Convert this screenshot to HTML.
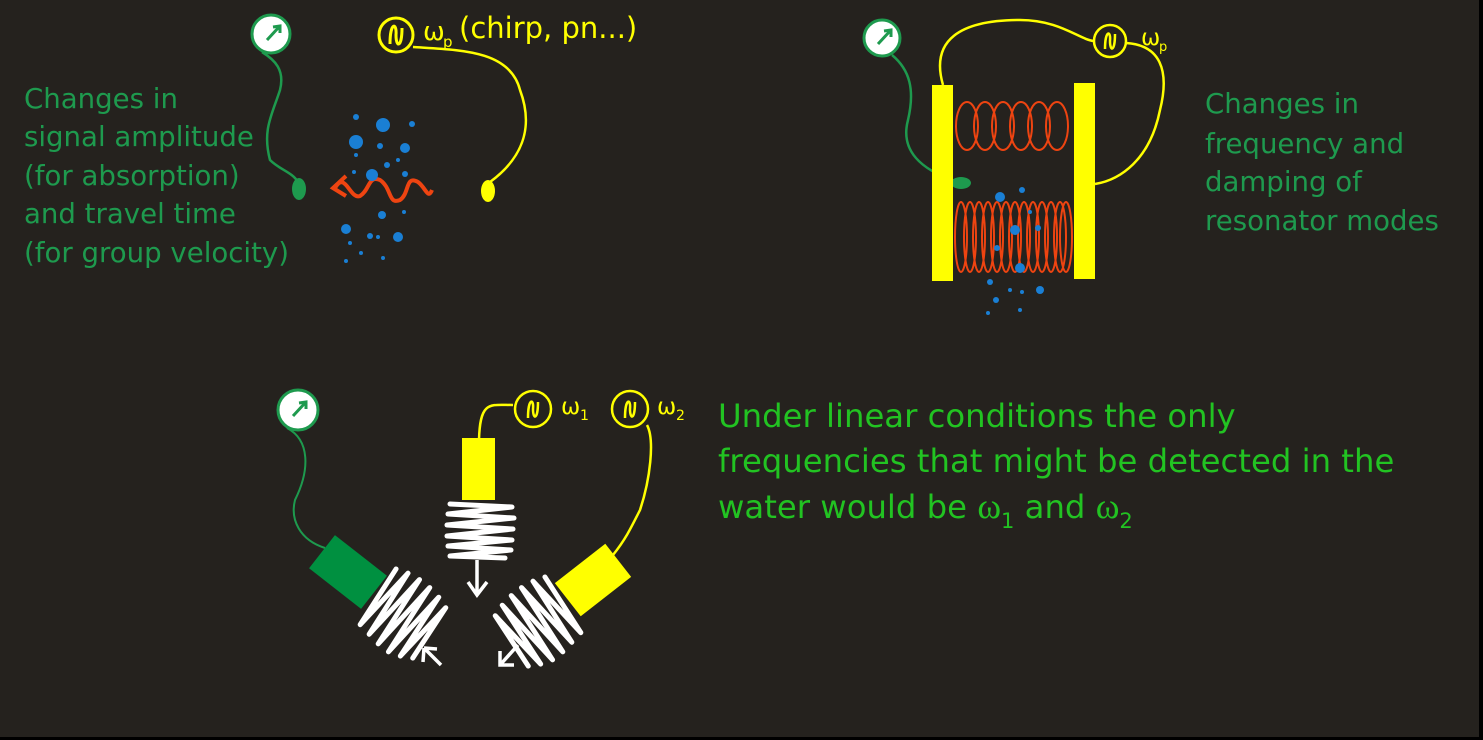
<!DOCTYPE html>
<html><head><meta charset="utf-8"><style>
html,body{margin:0;padding:0;background:#000;}
svg{display:block;}
text{font-family:"DejaVu Sans","Liberation Sans",sans-serif;}
</style></head><body>
<svg width="1483" height="740" viewBox="0 0 1483 740" xmlns="http://www.w3.org/2000/svg">
<rect x="0" y="0" width="1479" height="737" fill="#25221e"/>

<g font-size="27.6" fill="#1e9a4e">
<text x="24" y="108">Changes in</text>
<text x="24" y="146">signal amplitude</text>
<text x="24" y="185">(for absorption)</text>
<text x="24" y="223">and travel time</text>
<text x="24" y="262">(for group velocity)</text>
</g>
<circle cx="271" cy="34" r="19" fill="#fff" stroke="#1e9a4e" stroke-width="3"/>
<path d="M267 40 L279 27 M273 27 L280 26 L280 33" stroke="#1e9a4e" stroke-width="3" fill="none"/>
<path d="M262 52 C275 60 285 70 280 90 C272 115 262 130 270 160 C280 170 292 172 298 182" stroke="#1e9a4e" stroke-width="2.5" fill="none"/>
<ellipse cx="299" cy="189" rx="7" ry="11" fill="#1e9a4e"/>
<circle cx="396" cy="35" r="17" fill="none" stroke="#ffff00" stroke-width="3"/>
<path d="M390 44 C390 22 397 22 396 35 C396 48 402 48 402 28" stroke="#ffff00" stroke-width="3" fill="none"/>
<text x="423" y="40" font-size="26" fill="#ffff00" font-family="Liberation Serif,serif">ω</text>
<text x="443" y="47" font-size="15" fill="#ffff00">p</text>
<text x="459" y="38" font-size="29" fill="#ffff00">(chirp, pn...)</text>
<path d="M413 47 C460 50 510 50 520 90 C535 130 520 160 490 182" stroke="#ffff00" stroke-width="2.5" fill="none"/>
<ellipse cx="488" cy="191" rx="7" ry="11" fill="#ffff00"/>
<path d="M335 188 C345 170 350 200 360 196 C370 190 368 175 380 180 C392 188 388 205 400 200 C410 193 405 175 418 182 C426 188 428 200 432 190" stroke="#ee4411" stroke-width="4" fill="none"/>
<path d="M346 176 L333 188 L346 196" stroke="#ee4411" stroke-width="4" fill="none"/>
<g fill="#1a7fd4">
<circle cx="356" cy="117" r="3"/><circle cx="383" cy="125" r="7"/><circle cx="412" cy="124" r="3"/>
<circle cx="356" cy="142" r="7"/><circle cx="380" cy="146" r="3"/><circle cx="405" cy="148" r="5"/>
<circle cx="356" cy="155" r="2"/><circle cx="387" cy="165" r="3"/><circle cx="398" cy="160" r="2"/>
<circle cx="372" cy="175" r="6"/><circle cx="405" cy="174" r="3"/><circle cx="354" cy="172" r="2"/>
<circle cx="382" cy="215" r="4"/><circle cx="404" cy="212" r="2"/><circle cx="346" cy="229" r="5"/>
<circle cx="370" cy="236" r="3"/><circle cx="378" cy="237" r="2"/><circle cx="398" cy="237" r="5"/>
<circle cx="350" cy="243" r="2"/><circle cx="361" cy="253" r="2"/><circle cx="346" cy="261" r="2"/><circle cx="383" cy="258" r="2"/>
</g>

<g font-size="27.6" fill="#1e9a4e">
<text x="1205" y="113">Changes in</text>
<text x="1205" y="153">frequency and</text>
<text x="1205" y="191">damping of</text>
<text x="1205" y="230">resonator modes</text>
</g>
<circle cx="882" cy="38" r="18" fill="#fff" stroke="#1e9a4e" stroke-width="3"/>
<path d="M878 44 L890 31 M884 31 L891 30 L891 37" stroke="#1e9a4e" stroke-width="3" fill="none"/>
<path d="M892 55 C910 70 915 90 908 120 C900 150 920 170 958 182" stroke="#1e9a4e" stroke-width="2.5" fill="none"/>
<ellipse cx="961" cy="183" rx="10" ry="6" fill="#1e9a4e"/>
<rect x="932" y="85" width="21" height="196" fill="#ffff00"/>
<rect x="1074" y="83" width="21" height="196" fill="#ffff00"/>
<circle cx="1110" cy="41" r="16" fill="none" stroke="#ffff00" stroke-width="2.5"/>
<path d="M1105 49 C1105 30 1111 30 1110 41 C1110 52 1115 52 1115 34" stroke="#ffff00" stroke-width="2.5" fill="none"/>
<text x="1141" y="45" font-size="23" fill="#ffff00" font-family="Liberation Serif,serif">ω</text>
<text x="1159" y="51" font-size="13" fill="#ffff00">p</text>
<path d="M943 85 C930 40 960 20 1020 20 C1060 20 1080 40 1094 41" stroke="#ffff00" stroke-width="2.5" fill="none"/>
<path d="M1126 43 C1160 45 1170 70 1160 110 C1150 160 1120 180 1095 184" stroke="#ffff00" stroke-width="2.5" fill="none"/>
<g stroke="#ee4411" stroke-width="2" fill="none">
<ellipse cx="967" cy="126" rx="11" ry="24"/><ellipse cx="985" cy="126" rx="11" ry="24"/><ellipse cx="1003" cy="126" rx="11" ry="24"/>
<ellipse cx="1021" cy="126" rx="11" ry="24"/><ellipse cx="1039" cy="126" rx="11" ry="24"/><ellipse cx="1057" cy="126" rx="11" ry="24"/>
<ellipse cx="961" cy="237" rx="6" ry="35"/><ellipse cx="970" cy="237" rx="6" ry="35"/><ellipse cx="979" cy="237" rx="6" ry="35"/>
<ellipse cx="988" cy="237" rx="6" ry="35"/><ellipse cx="997" cy="237" rx="6" ry="35"/><ellipse cx="1006" cy="237" rx="6" ry="35"/>
<ellipse cx="1015" cy="237" rx="6" ry="35"/><ellipse cx="1024" cy="237" rx="6" ry="35"/><ellipse cx="1033" cy="237" rx="6" ry="35"/>
<ellipse cx="1042" cy="237" rx="6" ry="35"/><ellipse cx="1051" cy="237" rx="6" ry="35"/><ellipse cx="1060" cy="237" rx="6" ry="35"/>
<ellipse cx="1066" cy="237" rx="6" ry="35"/>
</g>
<g fill="#1a7fd4">
<circle cx="1000" cy="197" r="5"/><circle cx="1022" cy="190" r="3"/><circle cx="1030" cy="212" r="2"/>
<circle cx="1015" cy="230" r="5"/><circle cx="1038" cy="228" r="3"/><circle cx="997" cy="248" r="3"/>
<circle cx="1020" cy="268" r="5"/><circle cx="990" cy="282" r="3"/><circle cx="1010" cy="290" r="2"/><circle cx="1022" cy="292" r="2"/>
<circle cx="1040" cy="290" r="4"/><circle cx="996" cy="300" r="3"/><circle cx="988" cy="313" r="2"/><circle cx="1020" cy="310" r="2"/>
</g>

<g font-size="32.3" fill="#22c322">
<text x="718" y="427">Under linear conditions the only</text>
<text x="718" y="472">frequencies that might be detected in the</text>
<text x="718" y="518">water would be <tspan font-family="Liberation Serif,serif" font-size="36">ω</tspan><tspan font-size="21" dy="10">1</tspan><tspan dy="-10"> and </tspan><tspan font-family="Liberation Serif,serif" font-size="36">ω</tspan><tspan font-size="21" dy="10">2</tspan></text>
</g>
<circle cx="298" cy="410" r="20" fill="#fff" stroke="#1e9a4e" stroke-width="3"/>
<path d="M293 416 L305 403 M299 403 L306 402 L306 409" stroke="#1e9a4e" stroke-width="3" fill="none"/>
<path d="M287 428 C310 440 310 470 295 500 C290 520 300 540 325 548" stroke="#1e9a4e" stroke-width="2" fill="none"/>
<g transform="translate(348,572) rotate(38)">
<rect x="-33" y="-21" width="66" height="42" fill="#009040"/>
<polyline points="36,-32 42,34 48,-36 55,36 61,-38 68,38 74,-38 81,38 87,-36 93,34 99,-32 104,28" stroke="#fff" stroke-width="5" fill="none" stroke-linejoin="round" stroke-linecap="round"/>
</g>
<path d="M441 665 L424 648 M424 648 L423 662 M424 648 L437 649" stroke="#fff" stroke-width="3.5" fill="none"/>
<path d="M479 440 C480 400 490 405 513 405" stroke="#ffff00" stroke-width="2.5" fill="none"/>
<rect x="462" y="438" width="33" height="62" fill="#ffff00"/>
<polyline points="450,504 512,507 448,514 514,518 447,525 513,529 447,536 512,540 448,546 511,550 450,556 505,558" stroke="#fff" stroke-width="5" fill="none" stroke-linejoin="round" stroke-linecap="round"/>
<path d="M477 560 L477 594 M468 582 L477 595 L487 582" stroke="#fff" stroke-width="3.5" fill="none"/>
<circle cx="533" cy="409" r="18" fill="none" stroke="#ffff00" stroke-width="2.5"/>
<path d="M528 418 C528 398 534 398 533 409 C533 420 538 420 538 402" stroke="#ffff00" stroke-width="2.5" fill="none"/>
<text x="561" y="414" font-size="23" fill="#ffff00" font-family="Liberation Serif,serif">ω</text>
<text x="580" y="420" font-size="14" fill="#ffff00" font-family="Liberation Serif,serif">1</text>
<circle cx="630" cy="409" r="18" fill="none" stroke="#ffff00" stroke-width="2.5"/>
<path d="M625 418 C625 398 631 398 630 409 C630 420 635 420 635 402" stroke="#ffff00" stroke-width="2.5" fill="none"/>
<text x="657" y="414" font-size="23" fill="#ffff00" font-family="Liberation Serif,serif">ω</text>
<text x="676" y="420" font-size="14" fill="#ffff00" font-family="Liberation Serif,serif">2</text>
<path d="M647 425 C655 440 650 480 640 510 C630 530 625 540 613 555" stroke="#ffff00" stroke-width="2.5" fill="none"/>
<g transform="translate(593,580) rotate(-38)">
<rect x="-32" y="-21" width="64" height="42" fill="#ffff00"/>
<polyline points="-36,-32 -42,34 -48,-36 -55,36 -61,-38 -68,38 -74,-38 -81,38 -87,-36 -93,34 -99,-32 -104,28" stroke="#fff" stroke-width="5" fill="none" stroke-linejoin="round" stroke-linecap="round"/>
</g>
<path d="M518 645 L500 665 M500 651 L500 665 L514 665" stroke="#fff" stroke-width="3.5" fill="none"/>
</svg>
</body></html>
